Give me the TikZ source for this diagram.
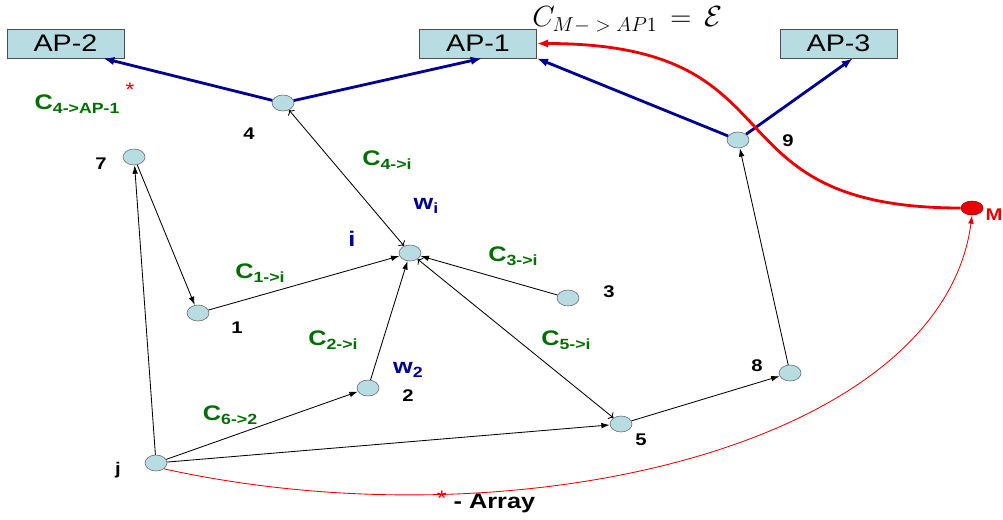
\documentclass[tikz,border=0pt]{standalone}
\usepackage[no-math]{fontspec}
\setmainfont[FakeStretch=1.2]{Liberation Sans}
\usetikzlibrary{shapes.geometric, arrows.meta}
\definecolor{apfill}{RGB}{183,221,226}
\definecolor{linkblue}{RGB}{0,0,150}
\definecolor{costgreen}{RGB}{0,110,0}
\definecolor{mred}{RGB}{235,0,0}
\newcommand{\cost}[1]{C\raisebox{-3pt}{\fontsize{10.5}{10.5}\selectfont #1}}

\begin{document}
\begin{tikzpicture}[x=0.025cm, y=-0.025cm,
	ap/.style={rectangle, draw=black!70, fill=apfill, minimum width=2.925cm, minimum height=0.725cm, inner sep=0pt, font=\fontsize{17}{17}\selectfont},
	sensor/.style={ellipse, draw=black!60, fill=apfill, minimum width=0.55cm, minimum height=0.4cm, inner sep=0pt},
	num/.style={font=\bfseries\fontsize{12}{12}\selectfont},
	costlabel/.style={text=costgreen, font=\bfseries\fontsize{15}{15}\selectfont},
	weight/.style={text=linkblue, font=\bfseries\fontsize{15}{15}\selectfont},
	uplink/.style={linkblue, line width=2pt, -{Latex[length=8pt,width=6pt]}},
	link/.style={black, line width=0.6pt, -{Latex[length=6pt,width=4pt]}}]
			\useasboundingbox (0,0) rectangle (1003,519);
			
			\node[ap] (ap2) at (65.5,43.5) {AP-2};
			\node[ap] (ap1) at (478,43.5) {AP-1};
			\node[ap] (ap3) at (838.5,43.5) {AP-3};
			\node [anchor=base west, inner sep=0pt, font=\fontsize{22}{22}\selectfont] (cm) at (532,27) {$C_{M\mathord{-}\;>\;AP1}\,=\,\mathcal{E}$};
			
			\node[sensor] (n4) at (283,103){};
			\node[sensor] (n7) at (134,157){};
			\node[sensor] (ni) at (410,253){};
			\node[sensor] (n1) at (198,313){};
			\node[sensor] (n3) at (568,298){};
			\node[sensor] (n2) at (368,388){};
			\node[sensor] (n5) at (621,424){};
			\node[sensor] (n8) at (790,373){};
			\node[sensor] (n9) at (738,140){};
			\node[sensor] (nj) at (156,463){};
			\node[ellipse, draw=red!60!black, fill=mred, minimum width=0.55cm, minimum height=0.35cm, inner sep=0pt] (m) at (972,208){};
			
			\node[num] at (249,134) {4};
			\node[num] at (101,164) {7};
			\node[num] at (237,328) {1};
			\node[num] at (609,292) {3};
			\node[num] at (408,396) {2};
			\node[num] at (641,440) {5};
			\node[num] at (757,366) {8};
			\node[num] at (788,141) {9};
			\node[num] at (118,470) {j};
			\node[num, text=mred] at (994,215) {M};
			\node[weight] at (352,239) {i};
			\node[weight] at (426,206) {w\raisebox{-3pt}{\fontsize{10.5}{10.5}\selectfont i}};
			\node[weight] at (408,370) {w\raisebox{-3pt}{\fontsize{10.5}{10.5}\selectfont 2}};
			
			\node[costlabel] at (77,104) {\cost{4->AP-1}};
			\node[text=mred, font=\fontsize{14}{14}\selectfont] at (130,90) {*};
			\node[costlabel] at (387,160) {\cost{4->i}};
			\node[costlabel] at (260,273) {\cost{1->i}};
			\node[costlabel] at (333,340) {\cost{2->i}};
			\node[costlabel] at (513,256) {\cost{3->i}};
			\node[costlabel] at (566,340) {\cost{5->i}};
			\node[costlabel] at (230,415) {\cost{6->2}};
			\node[font=\bfseries\fontsize{15}{15}\selectfont] at (486,502) {\textcolor{mred}{\mdseries\raisebox{2pt}{*}} - Array};
			
			\draw[uplink] (n4) -- ([xshift=0.94cm]ap2.south);
			\draw[uplink] (n4) -- ([xshift=0.1cm]ap1.south);
			\draw[uplink] (n9) -- (ap1.south east);
			\draw[uplink] (n9) -- ([xshift=0.36cm]ap3.south);
			
			\draw[link, <->] (n4) -- (ni);
			\draw[link] (n7) -- (n1);
			\draw[link] (n1) -- (ni);
			\draw[link] (n3) -- (ni);
			\draw[link] (n2) -- (ni);
			\draw[link, <->] (ni) -- (n5);
			\draw[link] (nj) -- (n7);
			\draw[link] (nj) -- (n2);
			\draw[link] (nj) -- (n5);
			\draw[link] (n5) -- (n8);
			\draw[link] (n8) -- (n9);
			
			\draw[mred, line width=0.6pt, -{Latex[length=6pt,width=4pt]}] (nj.south east) .. controls +(355,78) and +(-30,230) .. (m.south);
			\draw[mred, line width=2pt, -{Latex[length=8pt,width=6pt]}] (m.west) .. controls +(-260,0) and +(270,0) .. (ap1.east);
		\end{tikzpicture}
\end{document}
